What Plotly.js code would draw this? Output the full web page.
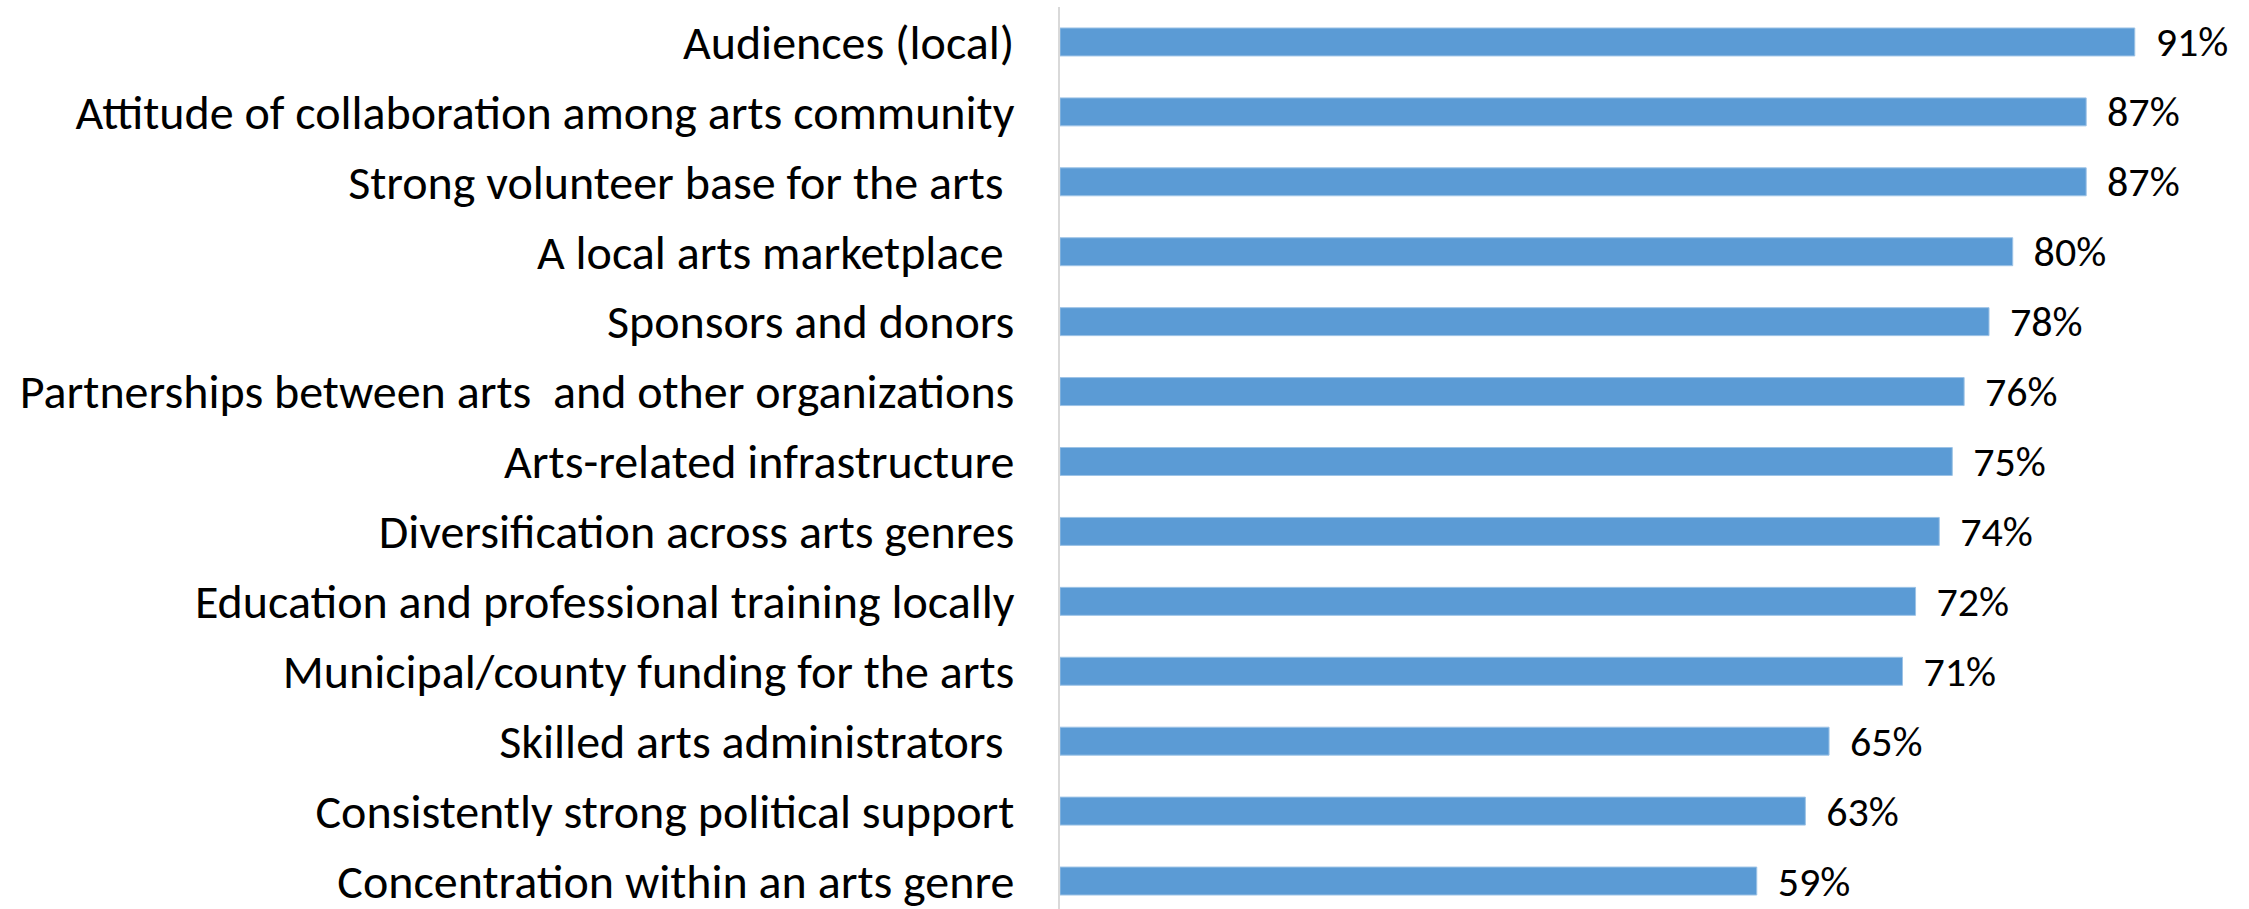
<!DOCTYPE html>
<html>
<head>
<meta charset="utf-8">
<script src="https://cdn.plot.ly/plotly-3.0.1.min.js"></script>
<style>
html,body{margin:0;padding:0;background:#fff;}
#chart{width:2249px;height:909px;}
</style>
</head>
<body>
<div id="chart"></div>
<script>
const categories = [
  "Audiences (local)",
  "Attitude of collaboration among arts community",
  "Strong volunteer base for the arts ",
  "A local arts marketplace ",
  "Sponsors and donors",
  "Partnerships between arts  and other organizations",
  "Arts-related infrastructure",
  "Diversification across arts genres",
  "Education and professional training locally",
  "Municipal/county funding for the arts",
  "Skilled arts administrators ",
  "Consistently strong political support",
  "Concentration within an arts genre"
];
const values = [0.907, 0.866, 0.866, 0.804, 0.784, 0.763, 0.753, 0.742, 0.722, 0.711, 0.649, 0.629, 0.588];
const labels = values.map(v => "\u00A0\u2009" + Math.round(v * 100) + "%");

const FONT = "Carlito, 'Liberation Sans Narrow', 'Open Sans', sans-serif";

const trace = {
  type: "bar",
  orientation: "h",
  y: categories,
  x: values,
  width: 0.4,
  marker: {color: "#5b9bd5", line: {color: "#9dc3e6", width: 1}},
  text: labels,
  textposition: "outside",
  constraintext: "none",
  textfont: {family: FONT, size: 42, color: "#000"},
  cliponaxis: false,
  hoverinfo: "none"
};

const layout = {
  width: 2249,
  height: 909,
  margin: {l: 1060, r: 0, t: 7, b: 0, pad: 0},
  paper_bgcolor: "#fff",
  plot_bgcolor: "#fff",
  showlegend: false,
  xaxis: {
    range: [0, 1.0034],
    showgrid: false,
    zeroline: false,
    showline: false,
    showticklabels: false,
    ticks: ""
  },
  yaxis: {
    type: "category",
    categoryorder: "array",
    categoryarray: categories,
    range: [12.4, -0.5],
    showgrid: false,
    zeroline: false,
    showline: true,
    linecolor: "#d9d9d9",
    linewidth: 2,
    ticks: "",
    ticklabelstandoff: 34,
    tickfont: {family: FONT, size: 48, color: "#000"}
  }
};

Plotly.newPlot("chart", [trace], layout, {displayModeBar: false, staticPlot: true});
</script>
</body>
</html>
